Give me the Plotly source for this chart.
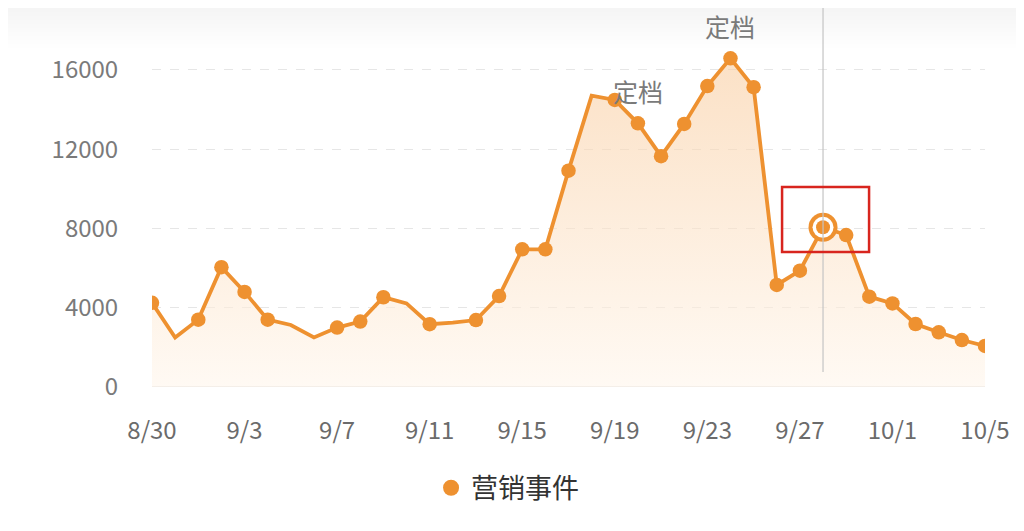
import plotly.graph_objects as go

# ---- data ----
dates = ["8/30", "8/31"] + [f"9/{d}" for d in range(1, 31)] + [f"10/{d}" for d in range(1, 6)]
values = [4250, 2500, 3400, 6050, 4800, 3400, 3130, 2500, 3000, 3300,
          4530, 4220, 3170, 3250, 3380, 4590, 6950, 6950, 10920, 14700,
          14490, 13310, 11650, 13280, 15190, 16590, 15130, 5150, 5870, 8060,
          7670, 4560, 4220, 3180, 2760, 2370, 2070]
unmarked_dates = ["8/31", "9/5", "9/6", "9/10", "9/12", "9/18"]
highlight_date = "9/28"
label_dates = ["9/20", "9/24"]
label_text = "定档"
tick_dates = ["8/30", "9/3", "9/7", "9/11", "9/15", "9/19", "9/23", "9/27", "10/1", "10/5"]
y_ticks = [0, 4000, 8000, 12000, 16000]
series_name = "营销事件"

ORANGE = "#EE9130"
FONT = "Noto Sans CJK SC"

idx = {d: i for i, d in enumerate(dates)}
xs = list(range(len(dates)))

fig = go.Figure()

# area + line
fig.add_trace(go.Scatter(
    x=xs, y=values, mode="lines",
    line=dict(color=ORANGE, width=3.8),
    fill="tozeroy",
    fillgradient=dict(type="vertical", start=0, stop=max(values),
                      colorscale=[[0, "rgba(255,246,236,0.6)"], [1, "rgba(249,205,160,0.6)"]]),
    showlegend=False, hoverinfo="skip",
))

# markers
mk_x = [idx[d] for d in dates if d not in unmarked_dates and d != highlight_date]
mk_y = [values[idx[d]] for d in dates if d not in unmarked_dates and d != highlight_date]
fig.add_trace(go.Scatter(
    x=mk_x, y=mk_y, mode="markers",
    marker=dict(color=ORANGE, size=14.5, line=dict(width=0)),
    showlegend=False, hoverinfo="skip",
))

# highlighted point
hx = idx[highlight_date]
hy = values[hx]
for size, col in [(29, ORANGE), (21, "white"), (14, ORANGE)]:
    fig.add_trace(go.Scatter(
        x=[hx], y=[hy], mode="markers",
        marker=dict(color=col, size=size, line=dict(width=0)),
        showlegend=False, hoverinfo="skip",
    ))

# legend dummy
fig.add_trace(go.Scatter(
    x=[None], y=[None], mode="markers", name=series_name,
    marker=dict(color=ORANGE, size=16),
))

# labels
for d in label_dates:
    fig.add_annotation(x=idx[d], y=values[idx[d]], text=label_text, showarrow=False,
                       yshift=32, font=dict(family=FONT, size=25, color="#7a7a7a"))

PH = 379  # plot height in px
y_top = 19129
shapes = []
# top card shadow (soft gradient)
for i in range(10):
    shapes.append(dict(type="rect", xref="paper", yref="paper", x0=-0.2, x1=1.05,
                       y0=1 - (40 - i * 4) / PH, y1=1,
                       fillcolor="rgba(190,190,190,0.014)", line=dict(width=0), layer="below"))
# pointer line
shapes.append(dict(type="line", xref="x", yref="paper", x0=hx, x1=hx,
                   y0=15 / PH, y1=1, line=dict(color="#c4c4c4", width=1.2)))
# red box around highlight
shapes.append(dict(type="rect", xref="x", yref="y", x0=hx - 1.77, x1=hx + 1.99,
                   y0=hy - 1245, y1=hy + 2040, line=dict(color="#D8251E", width=2.5),
                   fillcolor="rgba(0,0,0,0)"))
# baseline
shapes.append(dict(type="line", xref="x", yref="y", x0=0, x1=len(dates) - 1, y0=0, y1=0,
                   line=dict(color="#e4e4e4", width=2), layer="below"))

fig.update_layout(
    width=1016, height=523,
    margin=dict(l=144, r=39, t=0, b=144),
    paper_bgcolor="white", plot_bgcolor="white",
    font=dict(family=FONT),
    shapes=shapes,
    legend=dict(orientation="h", x=0.335, xanchor="left", y=-0.267, yanchor="middle",
                font=dict(family=FONT, size=27, color="#333333"), itemwidth=30),
    xaxis=dict(range=[0, len(dates) - 1], tickmode="array",
               tickvals=[idx[d] for d in tick_dates], ticktext=tick_dates,
               showgrid=False, zeroline=False, showline=False,
               ticks="outside", ticklen=22, tickcolor="rgba(0,0,0,0)",
               tickfont=dict(family=FONT, size=24, color="#6b6b6b")),
    yaxis=dict(range=[0, y_top], tickmode="array", tickvals=y_ticks,
               ticktext=[str(v) for v in y_ticks],
               showgrid=True, gridcolor="#e6e6e6", griddash="dash", gridwidth=1,
               zeroline=False, showline=False,
               ticks="outside", ticklen=28, tickcolor="rgba(0,0,0,0)",
               tickfont=dict(family=FONT, size=24, color="#7a7a7a")),
)

fig.write_html("out.html")
